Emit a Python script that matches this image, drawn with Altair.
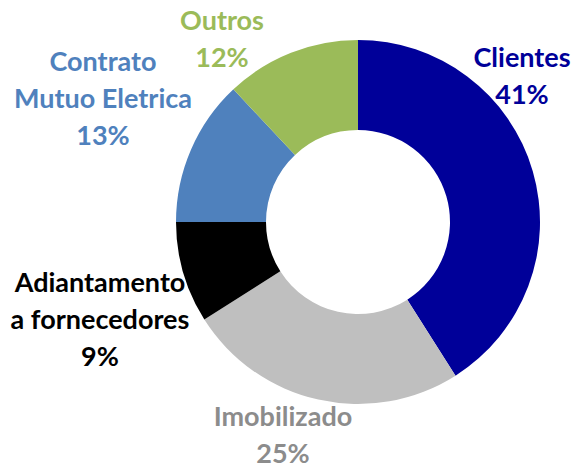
import altair as alt
import pandas as pd

# Data
categories = ["Clientes", "Imobilizado", "Adiantamento a fornecedores", "Contrato Mutuo Eletrica", "Outros"]
shares = [41, 25, 9, 13, 12]
label_lines = [
    ["Clientes", "41%"],
    ["Imobilizado", "25%"],
    ["Adiantamento", "a fornecedores", "9%"],
    ["Contrato", "Mutuo Eletrica", "13%"],
    ["Outros", "12%"],
]

# Styles / layout
slice_colors = ["#000099", "#BFBFBF", "#000000", "#4F81BD", "#9BBB59"]
label_colors = ["#000099", "#8C8C8C", "#000000", "#4F81BD", "#9BBB59"]
label_x = [514, 275, 92, 95, 214]
label_y = [59, 418, 284, 63, 22]
CX, CY = 350, 214

pie_df = pd.DataFrame({"cat": categories, "val": shares, "ord": list(range(len(categories)))})
lab_df = pd.DataFrame({
    "cat": categories,
    "txt": label_lines,
    "col": label_colors,
    "px": label_x,
    "py": label_y,
})

FONT = "Lato"

arcs = alt.Chart(pie_df).mark_arc(outerRadius=182, innerRadius=92, stroke=None).encode(
    theta=alt.Theta("val:Q", stack=True),
    order=alt.Order("ord:Q"),
    color=alt.Color("cat:N", scale=alt.Scale(domain=categories, range=slice_colors), legend=None),
    x=alt.value(CX),
    y=alt.value(CY),
)

labels = alt.Chart(lab_df).mark_text(
    font=FONT, fontWeight="bold", fontSize=27, lineHeight=37,
    align="center", baseline="alphabetic",
).encode(
    x=alt.X("px:Q", scale=None, axis=None),
    y=alt.Y("py:Q", scale=None, axis=None),
    text="txt",
    color=alt.Color("col:N", scale=None),
)

chart = alt.layer(arcs, labels).properties(
    width=565, height=455,
    autosize=alt.AutoSizeParams(type="none"),
    padding=0,
).configure_view(stroke=None)

chart.save("out.html", embed_options={"renderer": "svg", "actions": False})
